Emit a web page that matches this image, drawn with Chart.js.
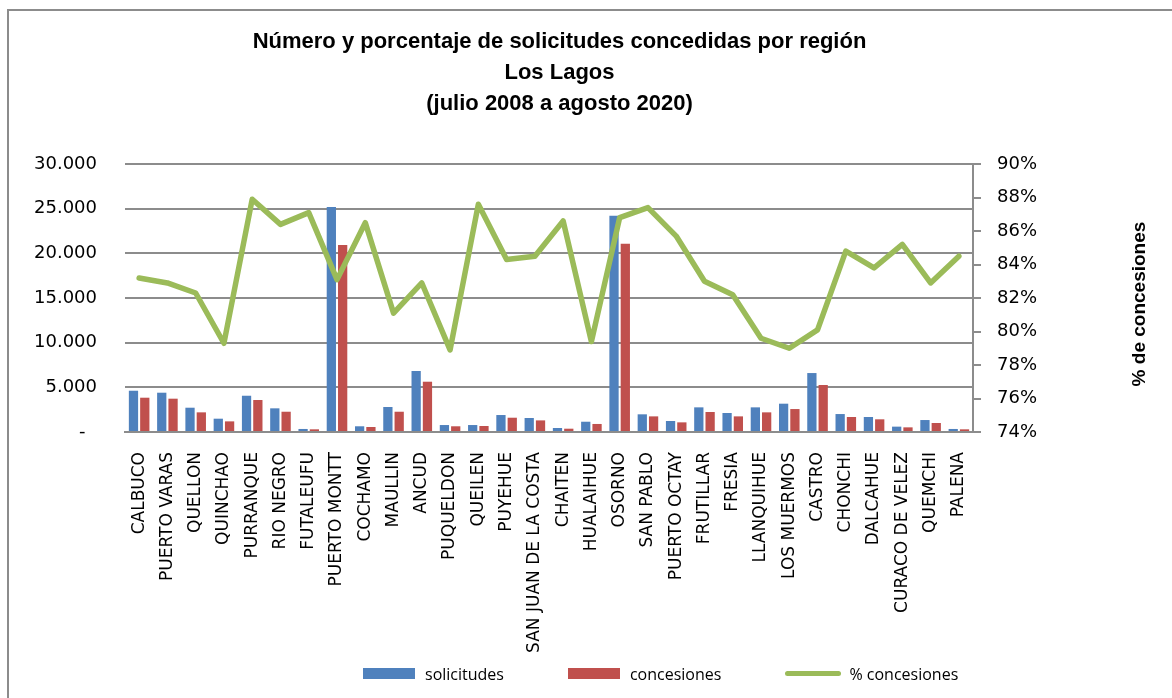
<!DOCTYPE html>
<html lang="es">
<head>
<meta charset="utf-8">
<title>Solicitudes concedidas por región - Los Lagos</title>
<script src="https://cdn.jsdelivr.net/npm/chart.js@4.4.1/dist/chart.umd.min.js"></script>
<style>
  html, body { margin: 0; padding: 0; background: #fff; overflow: hidden; }
  #wrap { position: relative; width: 1172px; height: 698px; }
  #frame { position: absolute; left: 7px; top: 9px; width: 1300px; height: 1300px; border: 2px solid #8c8c8c; pointer-events: none; }
  #legend { position: absolute; left: 363px; top: 660px; height: 27px; display: flex; align-items: center; font: 16px "Open Sans", sans-serif; color: #000; white-space: nowrap; }
  .item { display: flex; align-items: center; margin-right: 64px; }
  .box { display: inline-block; width: 52px; height: 11px; margin-right: 10px; }
  .line { display: inline-block; width: 56px; height: 5px; border-radius: 3px; margin-right: 8px; }
</style>
</head>
<body>
<div id="wrap">
  <canvas id="chart" width="1172" height="698"></canvas>
  <div id="legend"></div>
  <div id="frame"></div>
</div>
<script>
const REGIONES = [
  "CALBUCO", "PUERTO VARAS", "QUELLON", "QUINCHAO", "PURRANQUE", "RIO NEGRO",
  "FUTALEUFU", "PUERTO MONTT", "COCHAMO", "MAULLIN", "ANCUD", "PUQUELDON",
  "QUEILEN", "PUYEHUE", "SAN JUAN DE LA COSTA", "CHAITEN", "HUALAIHUE", "OSORNO",
  "SAN PABLO", "PUERTO OCTAY", "FRUTILLAR", "FRESIA", "LLANQUIHUE", "LOS MUERMOS",
  "CASTRO", "CHONCHI", "DALCAHUE", "CURACO DE VELEZ", "QUEMCHI", "PALENA"
];

const SOLICITUDES = [
  4620, 4400, 2720, 1490, 4060, 2650, 340, 25190, 640, 2800, 6830, 780,
  780, 1900, 1570, 450, 1150, 24210, 1980, 1230, 2760, 2130, 2760, 3170,
  6600, 2010, 1680, 600, 1340, 340
];

const CONCESIONES = [
  3840, 3730, 2200, 1190, 3580, 2270, 300, 20930, 560, 2270, 5630, 640,
  670, 1600, 1300, 370, 900, 21080, 1750, 1080, 2240, 1750, 2200, 2570,
  5260, 1680, 1420, 520, 1010, 300
];

// % concesiones (eje derecho)
const PCT_CONCESIONES = [
  83.2, 82.9, 82.3, 79.3, 87.9, 86.4, 87.1, 83.1, 86.5, 81.1, 82.9, 78.9,
  87.6, 84.3, 84.5, 86.6, 79.4, 86.8, 87.4, 85.7, 83.0, 82.2, 79.6, 79.0,
  80.1, 84.8, 83.8, 85.2, 82.9, 84.5
];

const TITLE_LINES = [
  "Número y porcentaje de solicitudes concedidas por región",
  "Los Lagos",
  "(julio 2008 a agosto 2020)"
];

const Y_MAX = 30000, Y_STEP = 5000;
const PCT_MIN = 74, PCT_MAX = 90, PCT_STEP = 2;

const BLUE = "#4F81BD";
const RED = "#C0504D";
const GREEN = "#9BBB59";
const GRID = "#8c8c8c";
const TICK_FONT = { family: "'DejaVu Sans', sans-serif", size: 18 };

function miles(v) {
  if (v === 0) return "-  ";
  return String(v).replace(/\B(?=(\d{3})+(?!\d))/g, ".");
}

// titulo del eje derecho, leido de abajo hacia arriba
const rightTitle = {
  id: "rightTitle",
  afterDraw(chart) {
    const { ctx, chartArea } = chart;
    ctx.save();
    ctx.translate(1145, (chartArea.top + chartArea.bottom) / 2 + 6);
    ctx.rotate(-Math.PI / 2);
    ctx.font = "bold 19px 'Liberation Sans', Arial, sans-serif";
    ctx.fillStyle = "#000";
    ctx.textAlign = "center";
    ctx.textBaseline = "alphabetic";
    ctx.fillText("% de concesiones", 0, 0);
    ctx.restore();
  }
};

function buildLegend(chart) {
  const legend = document.getElementById("legend");
  chart.data.datasets.forEach(ds => {
    const item = document.createElement("span");
    item.className = "item";
    const mark = document.createElement("span");
    const isLine = ds.type === "line";
    mark.className = isLine ? "line" : "box";
    mark.style.background = isLine ? ds.borderColor : ds.backgroundColor;
    const txt = document.createElement("span");
    txt.textContent = ds.label;
    item.append(mark, txt);
    legend.appendChild(item);
  });
}

const ctx = document.getElementById("chart").getContext("2d");
const chart = new Chart(ctx, {
  type: "bar",
  data: {
    labels: REGIONES,
    datasets: [
      {
        label: "solicitudes",
        data: SOLICITUDES,
        backgroundColor: BLUE,
        yAxisID: "y",
        order: 1,
        categoryPercentage: 0.8,
        barPercentage: 0.82
      },
      {
        label: "concesiones",
        data: CONCESIONES,
        backgroundColor: RED,
        yAxisID: "y",
        order: 1,
        categoryPercentage: 0.8,
        barPercentage: 0.82
      },
      {
        type: "line",
        label: "% concesiones",
        data: PCT_CONCESIONES,
        borderColor: GREEN,
        backgroundColor: GREEN,
        borderWidth: 5.5,
        borderJoinStyle: "round",
        borderCapStyle: "round",
        pointRadius: 0,
        tension: 0,
        yAxisID: "y1",
        order: 0
      }
    ]
  },
  options: {
    responsive: false,
    animation: false,
    layout: { padding: { left: 0, right: 53, top: 0, bottom: 30 } },
    plugins: {
      legend: { display: false },
      tooltip: { enabled: false },
      title: {
        display: true,
        text: TITLE_LINES,
        color: "#000",
        font: { family: "'Liberation Sans', Arial, sans-serif", size: 22, weight: "bold", lineHeight: 1.41 },
        padding: { top: 26, bottom: 45 }
      }
    },
    scales: {
      x: {
        grid: { display: false, drawTicks: false },
        border: { display: true, color: GRID, width: 2 },
        ticks: {
          color: "#000",
          font: { family: "'DejaVu Sans', sans-serif", size: 17 },
          minRotation: 90,
          maxRotation: 90,
          autoSkip: false,
          padding: 20
        },
        afterFit: s => { s.height = 236; }
      },
      y: {
        position: "left",
        min: 0,
        max: Y_MAX,
        ticks: { stepSize: Y_STEP, color: "#000", font: TICK_FONT, padding: 28, callback: miles },
        grid: { color: GRID, lineWidth: 2, drawTicks: false },
        border: { display: false },
        afterFit: s => { s.width = 125; }
      },
      y1: {
        position: "right",
        min: PCT_MIN,
        max: PCT_MAX,
        ticks: { stepSize: PCT_STEP, color: "#000", font: TICK_FONT, padding: 16, callback: v => v + "%" },
        grid: { drawOnChartArea: false, color: GRID, lineWidth: 2, tickLength: 8 },
        border: { display: true, color: GRID, width: 2 },
        afterFit: s => { s.width = 146; }
      }
    }
  },
  plugins: [rightTitle]
});

buildLegend(chart);
</script>
</body>
</html>
